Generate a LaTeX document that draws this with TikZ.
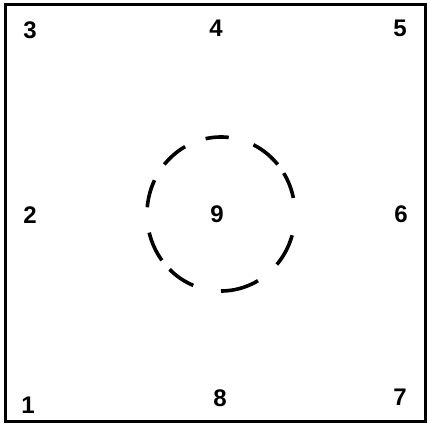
\documentclass[tikz,border=0pt]{standalone}
\usepackage{fontspec}
\setmainfont{Liberation Sans}
\begin{document}
\begin{tikzpicture}[x=1pt,y=-1pt,
  lab/.style={font=\fontsize{24}{24}\selectfont\bfseries, inner sep=0pt},
  frame/.style={line width=3pt},
  ring/.style={line width=3.6pt}]
\useasboundingbox (0,0) rectangle (429,426);
\fill[white] (0,0) rectangle (429,426);
\draw[frame] (5,4) rectangle (425,421);
\node[lab] (n3) at (30,30) {3};
\node[lab] (n4) at (216,28) {4};
\node[lab] (n5) at (400,28) {5};
\node[lab] (n2) at (30,215) {2};
\node[lab] (n9) at (217,214) {9};
\node[lab] (n6) at (401,214) {6};
\node[lab] (n1) at (28,405) {1};
\node[lab] (n8) at (220,398) {8};
\node[lab] (n7) at (400,397) {7};
\foreach \a/\b in {84/102, 40/64, 12/32, -41/-16, -90/-60, -134/-112, -166/-143, 154/175, 119/140}
  \draw[ring] plot[smooth, domain=\a:\b, samples=12] ({221+74*cos(\x)},{214-77*sin(\x)});
\end{tikzpicture}
\end{document}
